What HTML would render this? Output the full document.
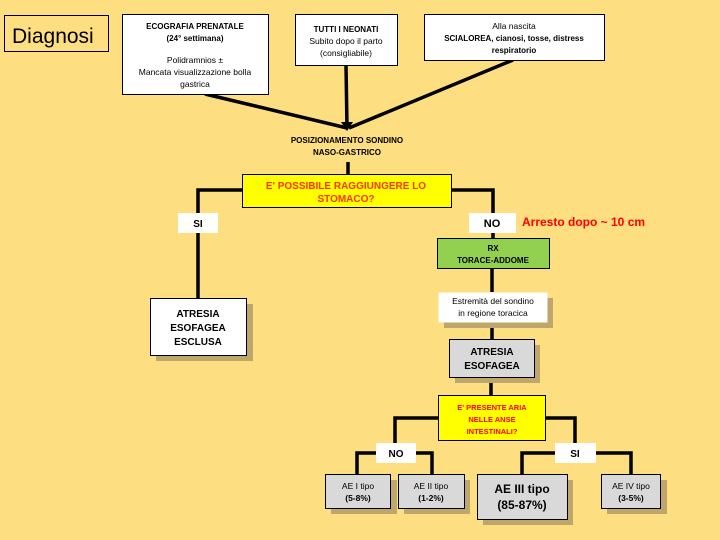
<!DOCTYPE html>
<html><head><meta charset="utf-8"><style>
html,body{margin:0;padding:0;background:#FDDE80;}
svg{display:block;font-family:"Liberation Sans",sans-serif;}
</style></head><body>
<svg width="720" height="540" viewBox="0 0 720 540" xmlns="http://www.w3.org/2000/svg">
<rect width="720" height="540" fill="#FDDE80"/>
<g stroke="#000" stroke-width="3.5" fill="none">
<line x1="205" y1="94" x2="347" y2="128"/>
<line x1="346" y1="65" x2="347" y2="128"/>
<line x1="513" y1="60" x2="349" y2="128"/>
<line x1="348" y1="162" x2="348" y2="175"/>
<polyline points="242,190 198,190 198,298"/>
<polyline points="451,190 493,190 493,238"/>
<line x1="492" y1="268" x2="492" y2="292"/>
<line x1="492" y1="322" x2="492" y2="339"/>
<line x1="491" y1="377" x2="491" y2="395"/>
<polyline points="438,418 395,418 395,443"/>
<polyline points="545,418 575,418 575,443"/>
<polyline points="357,474 357,453 432,453 432,474"/>
<polyline points="522,474 522,453 631,453 631,474"/>
</g>
<polygon points="341,122 353,122 347,131" fill="#000"/>
<g fill="#BFA66A">
<rect x="156" y="304" width="97" height="57"/>
<rect x="444" y="298" width="109" height="30"/>
<rect x="455" y="345" width="85" height="38"/>
<rect x="331" y="480" width="66" height="34"/>
<rect x="404" y="480" width="66" height="34"/>
<rect x="483" y="480" width="90" height="45"/>
<rect x="607" y="480" width="60" height="34"/>
</g>
<g stroke="#000" stroke-width="1">
<rect x="4.5" y="15.5" width="104" height="36" fill="#FDDE80"/>
<rect x="122.5" y="14.5" width="146" height="80" fill="#fff"/>
<rect x="295.5" y="14.5" width="102" height="51" fill="#fff"/>
<rect x="424.5" y="14.5" width="180" height="46" fill="#fff"/>
<rect x="242.5" y="174.5" width="209" height="33" fill="#FFFF00"/>
<rect x="437.5" y="238.5" width="112" height="30" fill="#92D050"/>
<rect x="150.5" y="298.5" width="96" height="57" fill="#fff"/>
<rect x="438.5" y="292.5" width="109" height="30" fill="#fff" stroke="none"/>
<rect x="449.5" y="339.5" width="85" height="38" fill="#D9D9D9"/>
<rect x="438.5" y="395.5" width="107" height="45" fill="#FFFF00"/>
<rect x="325.5" y="474.5" width="65" height="34" fill="#D9D9D9"/>
<rect x="398.5" y="474.5" width="66" height="34" fill="#D9D9D9"/>
<rect x="477.5" y="474.5" width="90" height="45" fill="#D9D9D9"/>
<rect x="601.5" y="474.5" width="59" height="34" fill="#D9D9D9"/>
</g>
<g fill="#fff">
<rect x="178" y="213" width="40" height="20"/>
<rect x="469" y="213" width="47" height="20"/>
<rect x="376" y="443" width="40" height="20"/>
<rect x="555" y="443" width="41" height="20"/>
</g>
<g text-anchor="middle" fill="#000">
<text x="12" y="43" text-anchor="start" font-size="21">Diagnosi</text>
<text x="195" y="29" font-size="8" font-weight="bold">ECOGRAFIA PRENATALE</text>
<text x="195" y="41" font-size="8" font-weight="bold">(24° settimana)</text>
<text x="195" y="63" font-size="8.5">Polidramnios ±</text>
<text x="195" y="75" font-size="8.5">Mancata visualizzazione bolla</text>
<text x="195" y="87" font-size="8.5">gastrica</text>
<text x="346" y="32" font-size="8" font-weight="bold">TUTTI I NEONATI</text>
<text x="346" y="44" font-size="8.5">Subito dopo il parto</text>
<text x="346" y="56" font-size="8.5">(consigliabile)</text>
<text x="514" y="29" font-size="8.5">Alla nascita</text>
<text x="514" y="41" font-size="8" font-weight="bold">SCIALOREA, cianosi, tosse, distress</text>
<text x="514" y="53" font-size="8" font-weight="bold">respiratorio</text>
<text x="347" y="143" font-size="8" font-weight="bold">POSIZIONAMENTO SONDINO</text>
<text x="347" y="155" font-size="8" font-weight="bold">NASO-GASTRICO</text>
<text x="346" y="189" font-size="10" font-weight="bold" fill="#FF3300">E' POSSIBILE RAGGIUNGERE LO</text>
<text x="346" y="202" font-size="10" font-weight="bold" fill="#FF3300">STOMACO?</text>
<text x="198" y="227" font-size="10" font-weight="bold">SI</text>
<text x="492" y="227" font-size="11" font-weight="bold">NO</text>
<text x="522" y="226" text-anchor="start" font-size="12" font-weight="bold" fill="#FF0000">Arresto dopo ~ 10 cm</text>
<text x="493" y="251" font-size="8" font-weight="bold">RX</text>
<text x="493" y="263" font-size="8" font-weight="bold">TORACE-ADDOME</text>
<text x="198" y="317" font-size="10" font-weight="bold">ATRESIA</text>
<text x="198" y="331" font-size="10" font-weight="bold">ESOFAGEA</text>
<text x="198" y="345" font-size="10" font-weight="bold">ESCLUSA</text>
<text x="493" y="304" font-size="8.5">Estremità del sondino</text>
<text x="493" y="316" font-size="8.5">in regione toracica</text>
<text x="492" y="355" font-size="10" font-weight="bold">ATRESIA</text>
<text x="492" y="369" font-size="10" font-weight="bold">ESOFAGEA</text>
<text x="492" y="410" font-size="7.5" font-weight="bold" fill="#FF0000">E' PRESENTE ARIA</text>
<text x="492" y="422" font-size="7.5" font-weight="bold" fill="#FF0000">NELLE ANSE</text>
<text x="492" y="434" font-size="7.5" font-weight="bold" fill="#FF0000">INTESTINALI?</text>
<text x="396" y="457" font-size="10" font-weight="bold">NO</text>
<text x="575" y="457" font-size="10" font-weight="bold">SI</text>
<text x="358" y="489" font-size="8.5">AE I tipo</text>
<text x="358" y="501" font-size="8.5" font-weight="bold">(5-8%)</text>
<text x="431" y="489" font-size="8.5">AE II tipo</text>
<text x="431" y="501" font-size="8.5" font-weight="bold">(1-2%)</text>
<text x="522" y="493" font-size="12" font-weight="bold">AE III tipo</text>
<text x="522" y="509" font-size="12" font-weight="bold">(85-87%)</text>
<text x="631" y="489" font-size="8.5">AE IV tipo</text>
<text x="631" y="501" font-size="8.5" font-weight="bold">(3-5%)</text>
</g>
</svg>
</body></html>
